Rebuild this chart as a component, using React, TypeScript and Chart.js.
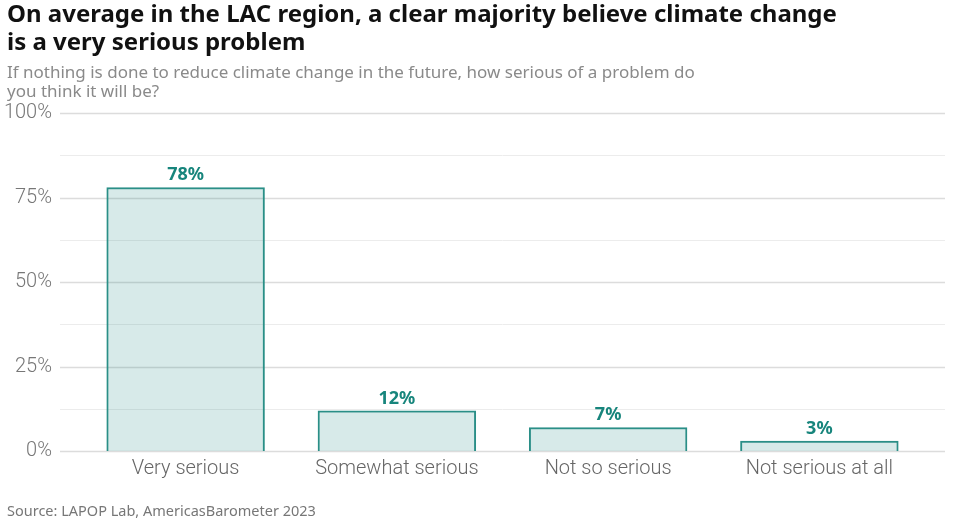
import { Chart, BarController, BarElement, CategoryScale, LinearScale } from 'chart.js';
import { useEffect, useRef } from 'react';

Chart.register(BarController, BarElement, CategoryScale, LinearScale);

const categories = ['Very serious', 'Somewhat serious', 'Not so serious', 'Not serious at all'];
const shares = [78, 12, 7, 3];
const majorTicks = [0, 25, 50, 75, 100];

const TEAL = '#2a8f87';
const LABEL_TEAL = '#17857c';

// grid lines run a bit wider than the bars' category band
const wideGrid = {
    id: 'wideGrid',
    beforeDatasetsDraw(chart: Chart) {
        const { ctx } = chart;
        const y = chart.scales.y;
        ctx.save();
        for (let v = 0; v <= 100; v += 12.5) {
            const py = Math.round(y.getPixelForValue(v)) + 0.5;
            ctx.strokeStyle = majorTicks.includes(v) ? '#dcdcdc' : '#ececec';
            ctx.lineWidth = majorTicks.includes(v) ? 1.5 : 1;
            ctx.beginPath();
            ctx.moveTo(60, py);
            ctx.lineTo(945, py);
            ctx.stroke();
        }
        ctx.restore();
    },
};

const valueLabels = {
    id: 'valueLabels',
    afterDatasetsDraw(chart: Chart) {
        const { ctx } = chart;
        const meta = chart.getDatasetMeta(0);
        ctx.save();
        ctx.fillStyle = LABEL_TEAL;
        ctx.font = 'bold 18px "Noto Sans", sans-serif';
        ctx.textAlign = 'center';
        ctx.textBaseline = 'bottom';
        meta.data.forEach((bar, i) => {
            ctx.fillText(`${shares[i]}%`, bar.x, bar.y - 3);
        });
        ctx.restore();
    },
};

export default function App() {
    const canvasRef = useRef<HTMLCanvasElement | null>(null);

    useEffect(() => {
        document.body.style.margin = '0';
        if (!canvasRef.current) {
            return;
        }

        const chart = new Chart(canvasRef.current, {
            type: 'bar',
            data: {
                labels: categories,
                datasets: [
                    {
                        data: shares,
                        backgroundColor: 'rgba(42, 143, 140, 0.19)',
                        borderColor: TEAL,
                        borderWidth: 2,
                        barPercentage: 0.75,
                        categoryPercentage: 1,
                    },
                ],
            },
            options: {
                responsive: false,
                animation: false,
                devicePixelRatio: 1,
                layout: { padding: { top: 113, right: 30, bottom: 43, left: 0 } },
                plugins: {
                    legend: { display: false },
                    tooltip: { enabled: false },
                },
                scales: {
                    x: {
                        grid: { display: false },
                        border: { display: false },
                        ticks: {
                            color: '#666',
                            font: { family: 'Roboto', size: 20, weight: 300 },
                            padding: -2,
                        },
                    },
                    y: {
                        min: 0,
                        max: 100,
                        afterFit: (scale) => {
                            scale.width = 80;
                        },
                        grid: { display: false },
                        border: { display: false },
                        ticks: {
                            stepSize: 12.5,
                            autoSkip: false,
                            padding: 20,
                            color: '#777',
                            font: { family: 'Roboto', size: 20, weight: 300 },
                            callback: (value) => (majorTicks.includes(Number(value)) ? `${value}%` : ''),
                        },
                    },
                },
            },
            plugins: [wideGrid, valueLabels],
        });

        return () => chart.destroy();
    }, []);

    return (
        <div style={{ position: 'relative', width: 955, height: 522, background: '#fff', overflow: 'hidden' }}>
            <canvas ref={canvasRef} width={955} height={522} style={{ position: 'absolute', left: 0, top: 0 }} />
            <div
                style={{
                    position: 'absolute',
                    left: 7,
                    top: -1,
                    width: 900,
                    fontFamily: '"Noto Sans", sans-serif',
                    fontWeight: 700,
                    fontSize: 24,
                    lineHeight: '28px',
                    color: '#111',
                }}
            >
                On average in the LAC region, a clear majority believe climate change
                <br />
                is a very serious problem
            </div>
            <div
                style={{
                    position: 'absolute',
                    left: 7,
                    top: 62,
                    fontFamily: '"Noto Sans", sans-serif',
                    fontSize: 17,
                    lineHeight: '19px',
                    color: '#8a8a8a',
                }}
            >
                If nothing is done to reduce climate change in the future, how serious of a problem do
                <br />
                you think it will be?
            </div>
            <div
                style={{
                    position: 'absolute',
                    left: 7,
                    top: 500,
                    fontFamily: '"Noto Sans", sans-serif',
                    fontSize: 14.5,
                    color: '#777',
                }}
            >
                Source: LAPOP Lab, AmericasBarometer 2023
            </div>
        </div>
    );
}
